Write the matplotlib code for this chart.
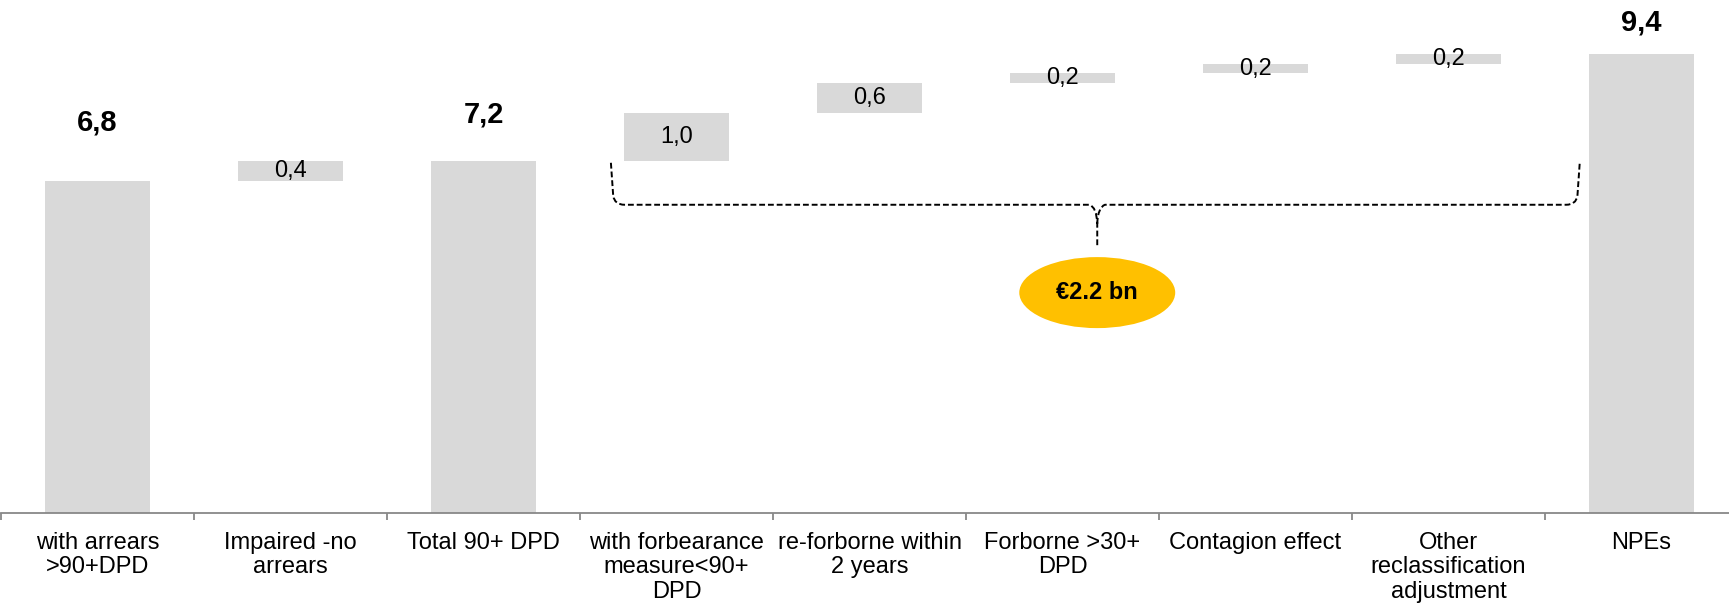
import matplotlib
matplotlib.use("Agg")
import matplotlib.pyplot as plt
from matplotlib.path import Path
from matplotlib.patches import PathPatch, Ellipse

plt.rcParams['font.family'] = ['Liberation Sans', 'DejaVu Sans']

# data
categories = ["with arrears\n>90+DPD", "Impaired -no\narrears", "Total 90+ DPD",
              "with forbearance\nmeasure<90+\nDPD", "re-forborne within\n2 years",
              "Forborne >30+\nDPD", "Contagion effect", "Other\nreclassification\nadjustment",
              "NPEs"]
values = [6.8, 0.4, 7.2, 1.0, 0.6, 0.2, 0.2, 0.2, 9.4]
is_total = [True, False, True, False, False, False, False, False, True]
value_labels = ["6,8", "0,4", "7,2", "1,0", "0,6", "0,2", "0,2", "0,2", "9,4"]
brace_label = "€2.2 bn"

# label offsets (points) above the total bars
total_offsets = [42, 0, 34, 0, 0, 0, 0, 0, 22.5]

bar_color = "#D9D9D9"
fig = plt.figure(figsize=(17.29, 6.13), dpi=100)
ax = fig.add_axes([0.0006, 0.1636, 1.0046, 0.828])

# waterfall bottoms
bottoms = []
running = 0
for v, tot in zip(values, is_total):
    if tot:
        bottoms.append(0)
        running = v
    else:
        bottoms.append(running)
        running += v

x = list(range(len(categories)))
ax.bar(x, values, bottom=bottoms, width=0.54, color=bar_color, edgecolor="none")

for i, (v, b, tot) in enumerate(zip(values, bottoms, is_total)):
    if tot:
        ax.annotate(value_labels[i], (i, b + v), xytext=(0, total_offsets[i]),
                    textcoords="offset points", ha="center", va="center",
                    fontsize=21, fontweight="bold")
    else:
        ax.text(i, b + v / 2, value_labels[i], ha="center", va="center", fontsize=17)

ax.set_xlim(-0.5, len(categories) - 0.5)
ax.set_ylim(0, 10.4)

# brace over the forbearance steps
xl, xr, xm = 2.66, 7.68, 5.18
ytop, yh, ytip, ycusp = 7.17, 6.31, 5.44, 5.92
verts = [
    (xl, ytop), (xl + 0.012, yh + 0.18), (xl + 0.02, yh), (xl + 0.07, yh),
    (xm - 0.04, yh), (xm - 0.003, yh - 0.05), (xm, ycusp), (xm, ytip),
    (xm, ycusp), (xm + 0.003, yh - 0.05), (xm + 0.04, yh),
    (xr - 0.07, yh), (xr - 0.02, yh), (xr - 0.012, yh + 0.18), (xr, ytop),
]
codes = [
    Path.MOVETO, Path.LINETO, Path.CURVE3, Path.CURVE3,
    Path.LINETO, Path.CURVE3, Path.CURVE3, Path.LINETO,
    Path.MOVETO, Path.CURVE3, Path.CURVE3,
    Path.LINETO, Path.CURVE3, Path.CURVE3, Path.LINETO,
]
brace = PathPatch(Path(verts, codes), facecolor="none", edgecolor="black",
                  linewidth=1.4, linestyle=(0, (3, 1.5)))
ax.add_patch(brace)

ax.add_patch(Ellipse((xm, 4.51), 0.808, 1.455, facecolor="#FFC000", edgecolor="none"))
ax.text(xm, 4.51, brace_label, ha="center", va="center", fontsize=17, fontweight="bold")

# axes styling
for side in ["top", "right", "left"]:
    ax.spines[side].set_visible(False)
ax.spines["bottom"].set_color("#888888")
ax.spines["bottom"].set_linewidth(1.3)
ax.set_yticks([])
ax.set_xticks(x)
ax.set_xticklabels(categories, fontsize=17, linespacing=1.13)
ax.tick_params(axis="x", which="major", length=0, pad=14)
ax.set_xticks([i - 0.5 for i in range(len(categories) + 1)], minor=True)
ax.tick_params(axis="x", which="minor", length=5, width=1.3, color="#888888")

fig.savefig("out.png", dpi=100)
